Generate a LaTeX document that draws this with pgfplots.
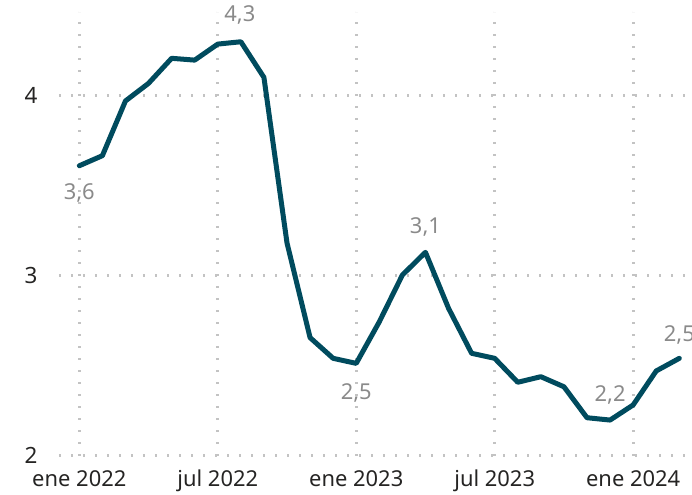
\documentclass[border=0pt]{standalone}
\usepackage{fontspec}
\setmainfont{Noto Sans}
\usepackage{pgfplots}
\pgfplotsset{compat=1.18}
\definecolor{linec}{RGB}{0,75,94}
\definecolor{lblc}{RGB}{138,138,138}
\definecolor{gridc}{RGB}{195,195,195}
\definecolor{tickc}{RGB}{37,36,35}
\tikzset{lbl/.style={font=\fontsize{22}{25}\selectfont, text=lblc, inner sep=0pt}}
\begin{document}
\begin{tikzpicture}
\begin{axis}[name=ax, scale only axis, width=633bp, height=444bp,
  xmin=-0.88, xmax=26.55, ymin=2, ymax=4.467,
  axis line style={draw=none},
  major tick length=0pt,
  xtick={0,6,12,18,24},
  xticklabels={ene 2022, jul 2022, ene 2023, jul 2023, ene 2024},
  ytick={2,3,4},
  grid=major,
  major grid style={gridc, line width=3bp, dash pattern=on 2bp off 10bp},
  /pgf/number format/assume math mode=true,
  x tick label style={font=\fontsize{22}{26}\selectfont, text=tickc, anchor=base, inner sep=0pt, yshift=-30.3bp},
  y tick label style={font=\fontsize{22.5}{26}\selectfont, text=tickc, anchor=base east, inner sep=0pt, xshift=-21.3bp, yshift=-7.6bp},
  clip=false,
]
\addplot[linec, line width=5bp, line join=round, line cap=round] coordinates {
(0,3.611) (1,3.667) (2,3.971) (3,4.069) (4,4.208) (5,4.198) (6,4.287) (7,4.300) (8,4.102)
(9,3.182) (10,2.656) (11,2.541) (12,2.513) (13,2.744) (14,3.004) (15,3.130) (16,2.819)
(17,2.569) (18,2.541) (19,2.408) (20,2.439) (21,2.383) (22,2.211) (23,2.198) (24,2.282)
(25,2.471) (26,2.541)
};
\node[lbl, yshift=-27bp] at (axis cs:0,3.611) {3,6};
\node[lbl, yshift=27bp, xshift=-1bp] at (axis cs:7,4.300) {4,3};
\node[lbl, yshift=-30bp] at (axis cs:12,2.513) {2,5};
\node[lbl, yshift=25bp] at (axis cs:15,3.130) {3,1};
\node[lbl, yshift=25bp] at (axis cs:23,2.198) {2,2};
\node[lbl, yshift=23bp] at (axis cs:26,2.541) {2,5};
\end{axis}
\pgfresetboundingbox
\path ([xshift=-59bp,yshift=-39.3bp]ax.south west) rectangle ([yshift=11.7bp]ax.north east);
\end{tikzpicture}
\end{document}
